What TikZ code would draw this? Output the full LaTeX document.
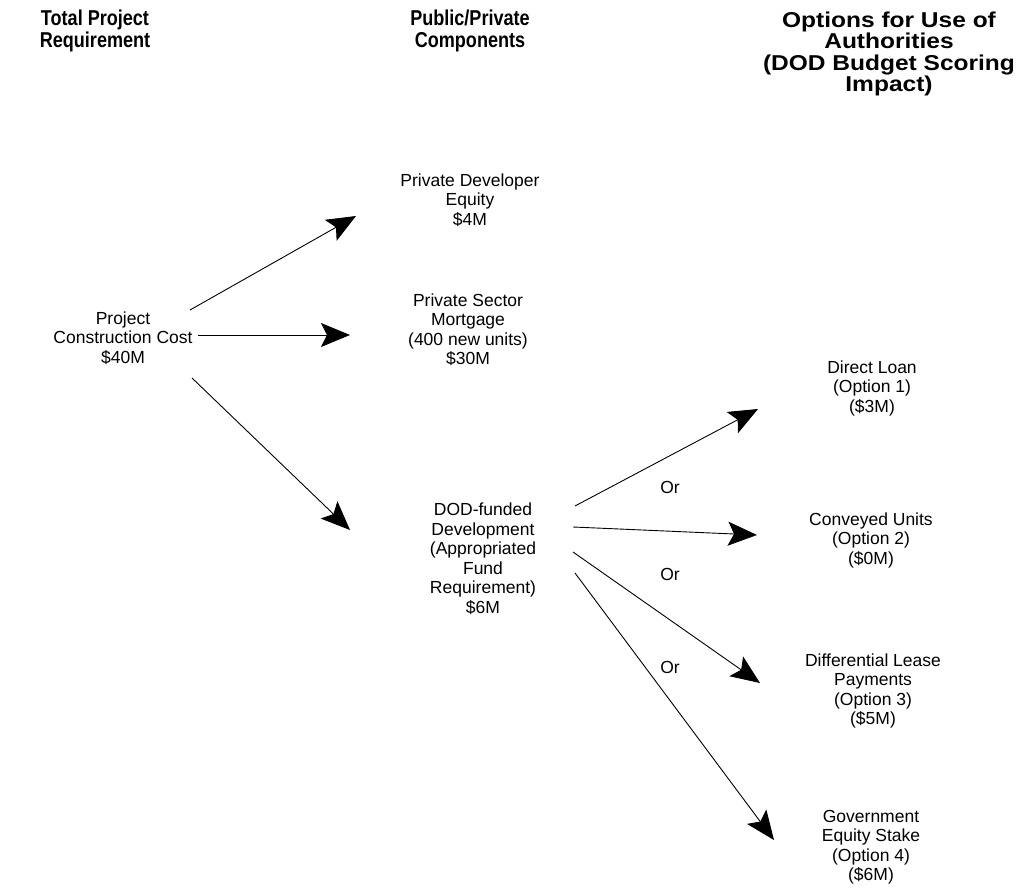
\documentclass[tikz,border=0pt]{standalone}
\usepackage{fontspec}
\setmainfont{Liberation Sans}
\newfontfamily\titlefont[FakeStretch=0.84]{Liberation Sans}
\newfontfamily\titlefontwide[FakeStretch=1.14]{Liberation Sans}
\usetikzlibrary{arrows.meta}
\begin{document}
\begin{tikzpicture}[x=1pt,y=-1pt,
  hdr/.style={align=center,inner sep=0pt,font=\titlefont\bfseries\fontsize{21.5}{21.5}\selectfont},
  hdrwide/.style={align=center,inner sep=0pt,font=\titlefontwide\bfseries\fontsize{21.5}{21.5}\selectfont},
  lbl/.style={align=center,inner sep=0pt,font=\fontsize{17.5}{19.5}\selectfont},
  orlbl/.style={inner sep=0pt,font=\fontsize{17.5}{19.5}\selectfont},
  conn/.style={line width=0.9pt,-{Stealth[length=29pt,width=24pt,inset=6pt]}}]
\useasboundingbox (0,0) rectangle (1021,896);
% headers
\node[hdr] (h1) at (95,31) {Total Project\\Requirement};
\node[hdr] (h2) at (470,31) {Public/Private\\Components};
\node[hdrwide] (h3) at (889,54) {Options for Use of\\Authorities\\(DOD Budget Scoring\\Impact)};
% nodes
\node[lbl] (cost) at (123,338) {Project\\Construction Cost\\\$40M};
\node[lbl] (equity) at (470,200) {Private Developer\\Equity\\\$4M};
\node[lbl] (mort) at (468,330) {Private Sector\\Mortgage\\(400 new units)\\\$30M};
\node[lbl] (dod) at (483,559) {DOD-funded\\Development\\(Appropriated\\Fund\\Requirement)\\\$6M};
\node[lbl] (opt1) at (872,388) {Direct Loan\\(Option 1)\\(\$3M)};
\node[lbl] (opt2) at (871,540) {Conveyed Units\\(Option 2)\\(\$0M)};
\node[lbl] (opt3) at (873,691) {Differential Lease\\Payments\\(Option 3)\\(\$5M)};
\node[lbl] (opt4) at (871,847) {Government\\Equity Stake\\(Option 4)\\(\$6M)};
\node[orlbl] (or1) at (670,487) {Or};
\node[orlbl] (or2) at (670,574) {Or};
\node[orlbl] (or3) at (670,667) {Or};
% connector endpoints
\coordinate (s1) at (190,310); \coordinate (e1) at (356,216);
\coordinate (s2) at (198,335); \coordinate (e2) at (350,335);
\coordinate (s3) at (192,378); \coordinate (e3) at (350,530);
\coordinate (s4) at (575,506); \coordinate (e4) at (758,409);
\coordinate (s5) at (573,527); \coordinate (e5) at (757,535);
\coordinate (s6) at (573,552); \coordinate (e6) at (760,683);
\coordinate (s7) at (575,573); \coordinate (e7) at (774,840);
\draw[conn] (s1) -- (e1);
\draw[conn] (s2) -- (e2);
\draw[conn] (s3) -- (e3);
\draw[conn] (s4) -- (e4);
\draw[conn] (s5) -- (e5);
\draw[conn] (s6) -- (e6);
\draw[conn] (s7) -- (e7);
\end{tikzpicture}
\end{document}
